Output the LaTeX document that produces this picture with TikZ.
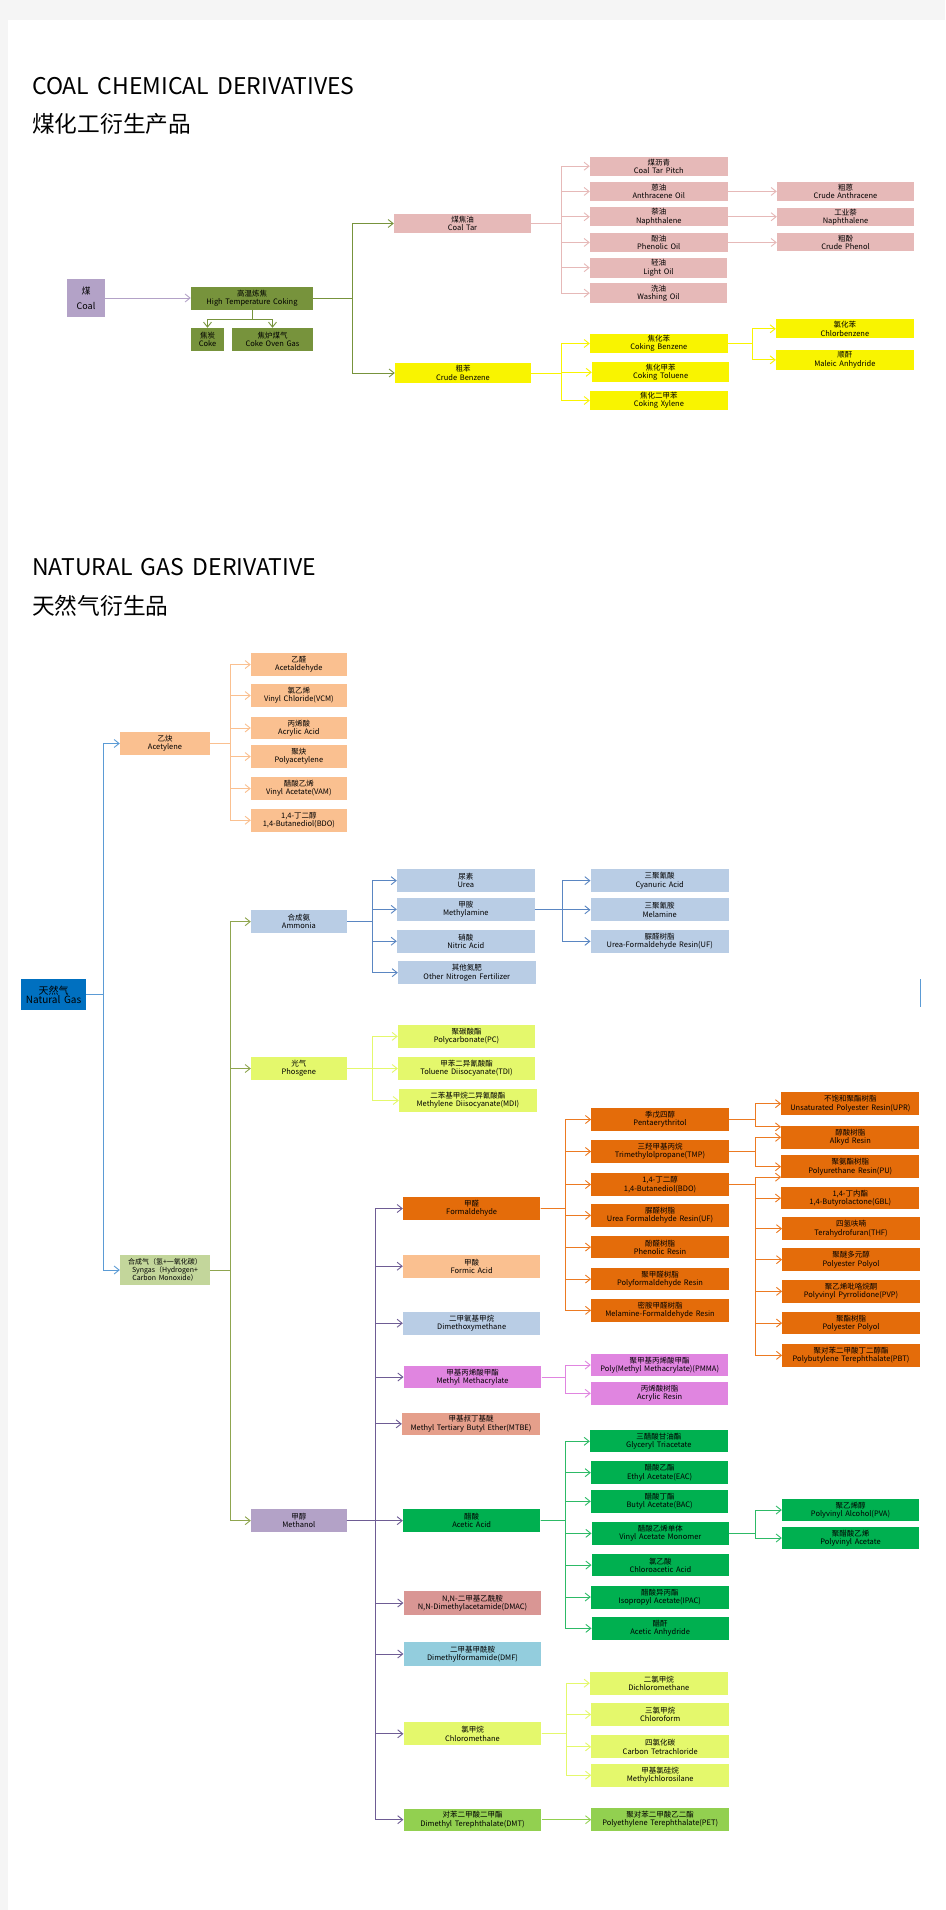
\documentclass[tikz,border=0pt]{standalone}
\usepackage{fontspec}
\setmainfont{Noto Sans CJK SC}[WordSpace=1.6]
\usetikzlibrary{arrows.meta,calc}
\definecolor{cLav}{HTML}{B3A2C7}
\definecolor{cOlive}{HTML}{77933C}
\definecolor{cPink}{HTML}{E6B9B8}
\definecolor{cYel}{HTML}{F9F400}
\definecolor{cPeach}{HTML}{FAC090}
\definecolor{cSteel}{HTML}{B9CDE5}
\definecolor{cLime}{HTML}{E4F86C}
\definecolor{cSyn}{HTML}{C3D69B}
\definecolor{cOrg}{HTML}{E46C0A}
\definecolor{cOrchid}{HTML}{E085E0}
\definecolor{cSalmon}{HTML}{E59F8B}
\definecolor{cGreen}{HTML}{00B050}
\definecolor{cRose}{HTML}{D99694}
\definecolor{cSky}{HTML}{93CDDD}
\definecolor{cLgreen}{HTML}{92D050}
\definecolor{cBlue}{HTML}{0070C0}
\definecolor{lBlue}{HTML}{5B9BD5}
\definecolor{lSteel}{HTML}{5A86C2}
\definecolor{lSyn}{HTML}{8FA54F}
\definecolor{lPurple}{HTML}{6E5C94}
\definecolor{lOrg}{HTML}{EC7A22}
\definecolor{lGreen}{HTML}{2DBA66}
\tikzset{
  bx/.style={rectangle,inner sep=0pt,align=center,text=black,
    font=\fontsize{7.5}{8.3}\selectfont},
  arr/.style={-{Straight Barb[length=5pt,width=8pt]},line width=0.9pt},
  ttl/.style={anchor=base west,inner sep=0pt,text=black,font=\fontsize{23}{25}\selectfont},
  ttlc/.style={anchor=base west,inner sep=0pt,text=black,font=\fontsize{22.7}{25}\selectfont},
}
\newcommand\bx[7]{\node[bx,fill=#6,minimum width=#4pt,minimum height=#5pt] (#1) at ({#2+#4/2},{#3+#5/2}) {#7};}
\newcommand\tr[4]{\draw[arr,#1] (#2.east) -- ++(#3,0) |- (#4.west);}
\begin{document}
\begin{tikzpicture}[x=1pt,y=-1pt]
\fill[black!4] (0,0) rectangle (945,1910);
\fill[white] (8,20) rectangle (945,1910);
\useasboundingbox (0,0) rectangle (945,1910);

% titles
\node[ttl] (t1) at (32,94.5) {COAL CHEMICAL DERIVATIVES};
\node[ttlc] (t2) at (32,133) {煤化工衍生产品};
\node[ttl] (t3) at (32,575.5) {NATURAL GAS DERIVATIVE};
\node[ttlc] (t4) at (32,614) {天然气衍生品};

% ---------------- coal ----------------
\node[bx,fill=cLav,minimum width=38pt,minimum height=38pt,font=\fontsize{9}{15}\selectfont] (coal) at (86,298) {煤\\Coal};
\bx{htc}{191}{287}{122}{23}{cOlive}{高温炼焦\\High Temperature Coking}
\bx{coke}{191}{328}{33}{23}{cOlive}{焦炭\\Coke}
\bx{cog}{232}{328}{81}{23}{cOlive}{焦炉煤气\\Coke Oven Gas}
\bx{coaltar}{394}{214}{137}{19}{cPink}{煤焦油\\Coal Tar}
\bx{crudebz}{395}{363}{136}{20}{cYel}{粗苯\\Crude Benzene}
\bx{ctp}{590}{156.7}{137.5}{19}{cPink}{煤沥青\\Coal Tar Pitch}
\bx{ao}{590}{181.7}{137.5}{19.5}{cPink}{蒽油\\Anthracene Oil}
\bx{naph}{590}{207}{137.5}{19.5}{cPink}{萘油\\Naphthalene}
\bx{po}{590}{232.7}{137.5}{19.5}{cPink}{酚油\\Phenolic Oil}
\bx{lo}{590}{257.7}{137}{20}{cPink}{轻油\\Light Oil}
\bx{wo}{590}{283.3}{137}{19.7}{cPink}{洗油\\Washing Oil}
\bx{ca}{777}{182}{137}{19}{cPink}{粗蒽\\Crude Anthracene}
\bx{naphb}{777}{207.7}{137}{18.5}{cPink}{工业萘\\Naphthalene}
\bx{cp}{777}{233}{137}{18.5}{cPink}{粗酚\\Crude Phenol}
\bx{cbz}{590}{334}{137.7}{19}{cYel}{焦化苯\\Coking Benzene}
\bx{ctol}{592}{362.3}{137.3}{20}{cYel}{焦化甲苯\\Coking Toluene}
\bx{cxyl}{590}{391}{137.7}{19}{cYel}{焦化二甲苯\\Coking Xylene}
\bx{clbz}{776}{319.3}{137.7}{19}{cYel}{氯化苯\\Chlorbenzene}
\bx{maleic}{776}{350}{137.7}{19.7}{cYel}{顺酐\\Maleic Anhydride}

\draw[arr,cLav] (coal.east) -- (coal.east -| htc.west);
\draw[arr,cOlive] (htc.south) -- ++(0,9.5) -| (coke.north);
\draw[arr,cOlive] (htc.south) -- ++(0,9.5) -| (cog.north);
\tr{cOlive}{htc}{39.7}{coaltar}
\tr{cOlive}{htc}{39.7}{crudebz}
\foreach \c in {ctp,ao,naph,po,lo,wo} {\tr{cPink}{coaltar}{30}{\c}}
\draw[arr,cPink] (ao.east) -- (ao.east -| ca.west);
\draw[arr,cPink] (naph.east) -- (naph.east -| naphb.west);
\draw[arr,cPink] (po.east) -- (po.east -| cp.west);
\foreach \c in {cbz,ctol,cxyl} {\tr{cYel}{crudebz}{30}{\c}}
\foreach \c in {clbz,maleic} {\tr{cYel}{cbz}{24.6}{\c}}

% ---------------- natural gas ----------------
\node[bx,fill=cBlue,minimum width=65pt,minimum height=31pt,font=\fontsize{10}{9}\selectfont] (ng) at (53.5,994.5) {天然气\\Natural Gas};
\bx{acetylene}{120}{732}{90}{23}{cPeach}{乙炔\\Acetylene}
\bx{acetaldehyde}{251}{653.3}{95.7}{22.5}{cPeach}{乙醛\\Acetaldehyde}
\bx{vcm}{251}{684.3}{95.7}{22.5}{cPeach}{氯乙烯\\Vinyl Chloride(VCM)}
\bx{acrylic}{251}{716.7}{95.7}{22.5}{cPeach}{丙烯酸\\Acrylic Acid}
\bx{polyac}{251}{745.3}{95.7}{22.5}{cPeach}{聚炔\\Polyacetylene}
\bx{vama}{251}{777.3}{95.7}{22.5}{cPeach}{醋酸乙烯\\Vinyl Acetate(VAM)}
\bx{bdoa}{251}{809}{95.7}{22.5}{cPeach}{1,4-丁二醇\\1,4-Butanediol(BDO)}

\bx{ammonia}{251}{910.3}{95.8}{22.7}{cSteel}{合成氨\\Ammonia}
\bx{urea}{397}{869}{137.6}{23.3}{cSteel}{尿素\\Urea}
\bx{methylamine}{397}{897.7}{137.6}{23.3}{cSteel}{甲胺\\Methylamine}
\bx{nitric}{397}{929.7}{137.6}{23}{cSteel}{硝酸\\Nitric Acid}
\bx{ontf}{398}{961}{137.5}{23.3}{cSteel}{其他氮肥\\Other Nitrogen Fertilizer}
\bx{cyanuric}{590.7}{869}{138}{23.3}{cSteel}{三聚氰酸\\Cyanuric Acid}
\bx{melamine}{590.7}{898.3}{138}{23}{cSteel}{三聚氰胺\\Melamine}
\bx{ufa}{590.7}{930}{138}{22.7}{cSteel}{脲醛树脂\\Urea-Formaldehyde Resin(UF)}

\bx{phosgene}{251}{1057}{95.7}{23}{cLime}{光气\\Phosgene}
\bx{pc}{398}{1025}{137}{22.7}{cLime}{聚碳酸酯\\Polycarbonate(PC)}
\bx{tdi}{398}{1057}{137}{23}{cLime}{甲苯二异氰酸酯\\Toluene Diisocyanate(TDI)}
\bx{mdi}{399}{1089.3}{137.7}{22.4}{cLime}{二苯基甲烷二异氰酸酯\\Methylene Diisocyanate(MDI)}

\node[bx,fill=cSyn,minimum width=90pt,minimum height=30.6pt,font=\fontsize{7}{8}\selectfont] (syngas) at (165,1270) {合成气（氢+一氧化碳）\\Syngas（Hydrogen+\\Carbon Monoxide）};
\bx{methanol}{251}{1509}{95.7}{23.3}{cLav}{甲醇\\Methanol}

\bx{formaldehyde}{403}{1197.3}{137.3}{22.4}{cOrg}{甲醛\\Formaldehyde}
\bx{formic}{403}{1254.7}{137.3}{23}{cPeach}{甲酸\\Formic Acid}
\bx{dmm}{403}{1311.7}{137.3}{23}{cSteel}{二甲氧基甲烷\\Dimethoxymethane}
\bx{mma}{403.7}{1365.7}{137.6}{22.6}{cOrchid}{甲基丙烯酸甲酯\\Methyl Methacrylate}
\bx{mtbe}{402}{1413}{138}{21.7}{cSalmon}{甲基叔丁基醚\\Methyl Tertiary Butyl Ether(MTBE)}
\bx{acetic}{403}{1509.3}{137.3}{22.7}{cGreen}{醋酸\\Acetic Acid}
\bx{dmac}{403.6}{1591.3}{137.8}{23.4}{cRose}{N,N-二甲基乙酰胺\\N,N-Dimethylacetamide(DMAC)}
\bx{dmf}{403.6}{1642.3}{137.8}{23.4}{cSky}{二甲基甲酰胺\\Dimethylformamide(DMF)}
\bx{chlorom}{403.6}{1722.3}{137.8}{23}{cLime}{氯甲烷\\Chloromethane}
\bx{dmt}{403.6}{1808.7}{137.8}{22}{cLgreen}{对苯二甲酸二甲酯\\Dimethyl Terephthalate(DMT)}

\bx{penta}{591.3}{1108}{137.4}{23}{cOrg}{季戊四醇\\Pentaerythritol}
\bx{tmp}{591.3}{1140}{137.4}{23}{cOrg}{三羟甲基丙烷\\Trimethylolpropane(TMP)}
\bx{bdo}{591.3}{1173}{137.4}{23}{cOrg}{1,4-丁二醇\\1,4-Butanediol(BDO)}
\bx{ufb}{591.3}{1204}{137.4}{22.7}{cOrg}{脲醛树脂\\Urea Formaldehyde Resin(UF)}
\bx{phenolic}{591.3}{1235.7}{137.4}{22.7}{cOrg}{酚醛树脂\\Phenolic Resin}
\bx{pom}{591.3}{1267.7}{137.4}{22.7}{cOrg}{聚甲醛树脂\\Polyformaldehyde Resin}
\bx{mf}{591.3}{1299}{137.4}{22.7}{cOrg}{密胺甲醛树脂\\Melamine-Formaldehyde Resin}

\bx{upr}{781.3}{1092.3}{138}{22.7}{cOrg}{不饱和聚酯树脂\\Unsaturated Polyester Resin(UPR)}
\bx{alkyd}{781.3}{1126}{138}{22.7}{cOrg}{醇酸树脂\\Alkyd Resin}
\bx{pu}{781.3}{1155.3}{138}{22.7}{cOrg}{聚氨酯树脂\\Polyurethane Resin(PU)}
\bx{gbl}{781.3}{1186.7}{138}{22.7}{cOrg}{1,4-丁内酯\\1,4-Butyrolactone(GBL)}
\bx{thf}{782.3}{1217.3}{137.5}{22.7}{cOrg}{四氢呋喃\\Terahydrofuran(THF)}
\bx{ppol}{782.3}{1248.3}{137.5}{22.7}{cOrg}{聚醚多元醇\\Polyester Polyol}
\bx{pvp}{782.3}{1280}{137.5}{22.7}{cOrg}{聚乙烯吡咯烷酮\\Polyvinyl Pyrrolidone(PVP)}
\bx{pest}{782.3}{1311.7}{137.5}{22.7}{cOrg}{聚酯树脂\\Polyester Polyol}
\bx{pbt}{782.3}{1344}{137.5}{22.7}{cOrg}{聚对苯二甲酸丁二醇酯\\Polybutylene Terephthalate(PBT)}

\bx{pmma}{591}{1353.7}{137.3}{22.6}{cOrchid}{聚甲基丙烯酸甲酯\\Poly(Methyl Methacrylate)(PMMA)}
\bx{acrres}{591}{1382}{137.3}{22.7}{cOrchid}{丙烯酸树脂\\Acrylic Resin}

\bx{glyceryl}{590}{1430.3}{137.7}{22}{cGreen}{三醋酸甘油酯\\Glyceryl Triacetate}
\bx{eac}{591}{1461.3}{137.3}{22.7}{cGreen}{醋酸乙酯\\Ethyl Acetate(EAC)}
\bx{bac}{591}{1490}{137.3}{22.7}{cGreen}{醋酸丁酯\\Butyl Acetate(BAC)}
\bx{vamb}{591.7}{1522}{137.3}{22.7}{cGreen}{醋酸乙烯单体\\Vinyl Acetate Monomer}
\bx{chlac}{591.7}{1553.7}{137.3}{22.7}{cGreen}{氯乙酸\\Chloroacetic Acid}
\bx{ipac}{591}{1585.5}{137.6}{23}{cGreen}{醋酸异丙酯\\Isopropyl Acetate(IPAC)}
\bx{anhyd}{591.7}{1617}{137}{22.7}{cGreen}{醋酐\\Acetic Anhydride}
\bx{pva}{782}{1499}{137}{22}{cGreen}{聚乙烯醇\\Polyvinyl Alcohol(PVA)}
\bx{pvac}{782}{1527}{137}{22}{cGreen}{聚醋酸乙烯\\Polyvinyl Acetate}

\bx{dcm}{590}{1671.7}{137.5}{23}{cLime}{二氯甲烷\\Dichloromethane}
\bx{chlfm}{591.4}{1703}{137.6}{23}{cLime}{三氯甲烷\\Chloroform}
\bx{ctc}{591.4}{1735.3}{137.6}{23}{cLime}{四氯化碳\\Carbon Tetrachloride}
\bx{mcs}{591.4}{1763.7}{137.6}{23}{cLime}{甲基氯硅烷\\Methylchlorosilane}
\bx{pet}{591.4}{1808.3}{137.6}{22.4}{cLgreen}{聚对苯二甲酸乙二酯\\Polyethylene Terephthalate(PET)}

% connectors
\foreach \c in {acetylene,syngas} {\tr{lBlue}{ng}{17}{\c}}
\foreach \c in {acetaldehyde,vcm,acrylic,polyac,vama,bdoa} {\tr{cPeach}{acetylene}{20}{\c}}
\foreach \c in {ammonia,phosgene,methanol} {\tr{lSyn}{syngas}{20.3}{\c}}
\foreach \c in {urea,methylamine,nitric,ontf} {\tr{lSteel}{ammonia}{25}{\c}}
\foreach \c in {cyanuric,melamine,ufa} {\tr{lSteel}{methylamine}{27.7}{\c}}
\foreach \c in {pc,tdi,mdi} {\tr{cLime}{phosgene}{25.8}{\c}}
\foreach \c in {formaldehyde,formic,dmm,mma,mtbe,acetic,dmac,dmf,chlorom,dmt} {\tr{lPurple}{methanol}{28.3}{\c}}
\foreach \c in {penta,tmp,bdo,ufb,phenolic,pom,mf} {\tr{lOrg}{formaldehyde}{25.4}{\c}}
\tr{lOrg}{penta}{27}{upr}
\draw[arr,lOrg] (penta.east) -- ++(27,0) |- ([yshift=10.5pt]alkyd.west);
\foreach \c in {alkyd,pu} {\tr{lOrg}{tmp}{27}{\c}}
\draw[arr,lOrg] (bdo.east) -- ++(27,0) |- ([yshift=-10.5pt]pu.west);
\foreach \c in {gbl,thf,ppol,pvp,pest,pbt} {\tr{lOrg}{bdo}{27}{\c}}
\foreach \c in {pmma,acrres} {\tr{cOrchid}{mma}{24.4}{\c}}
\foreach \c in {glyceryl,eac,bac,vamb,chlac,ipac,anhyd} {\tr{lGreen}{acetic}{24.7}{\c}}
\foreach \c in {pva,pvac} {\tr{lGreen}{vamb}{26.7}{\c}}
\foreach \c in {dcm,chlfm,ctc,mcs} {\tr{cLime}{chlorom}{24.6}{\c}}
\draw[arr,cLgreen] (dmt.east) -- (dmt.east -| pet.west);

\draw[lBlue,line width=1pt] (920.5,979) -- (920.5,1007);
\end{tikzpicture}
\end{document}
